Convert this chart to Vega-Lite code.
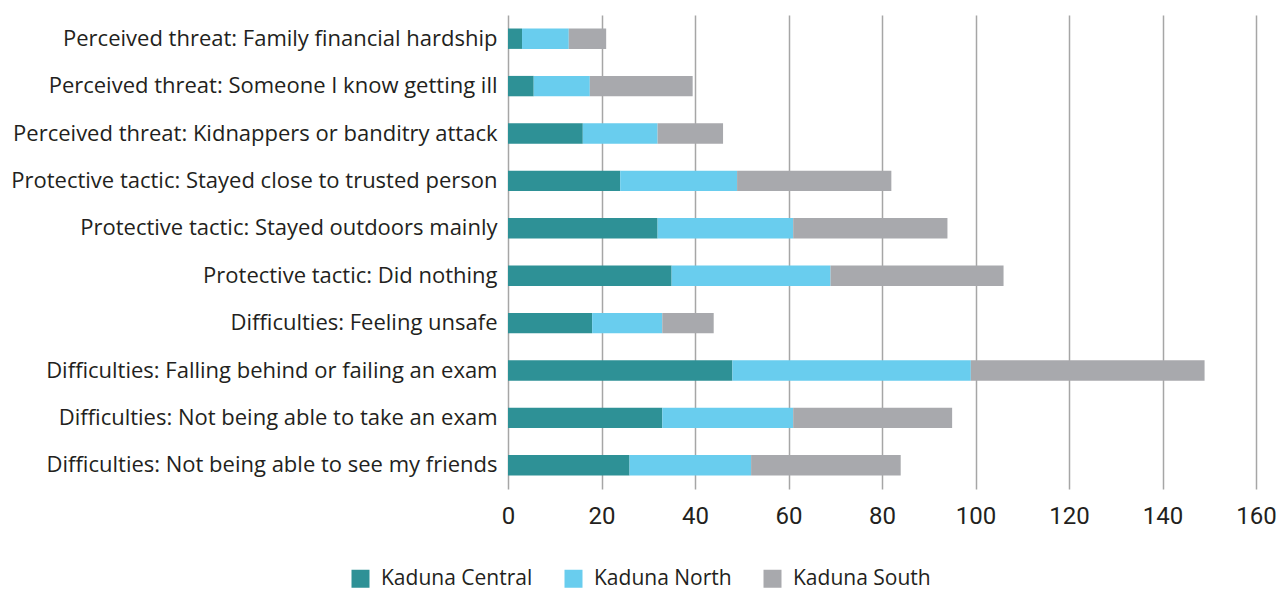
{
  "$schema": "https://vega.github.io/schema/vega-lite/v6.json",
  "autosize": {"type": "none"},
  "padding": {"left": 508, "top": 15, "right": 24, "bottom": 101},
  "width": 748,
  "height": 474,
  "background": "white",
  "data": {
    "values": [
      {"item": "Perceived threat: Family financial hardship", "region": "Kaduna Central", "value": 3},
      {"item": "Perceived threat: Family financial hardship", "region": "Kaduna North", "value": 10},
      {"item": "Perceived threat: Family financial hardship", "region": "Kaduna South", "value": 8},
      {"item": "Perceived threat: Someone I know getting ill", "region": "Kaduna Central", "value": 5.5},
      {"item": "Perceived threat: Someone I know getting ill", "region": "Kaduna North", "value": 12},
      {"item": "Perceived threat: Someone I know getting ill", "region": "Kaduna South", "value": 22},
      {"item": "Perceived threat: Kidnappers or banditry attack", "region": "Kaduna Central", "value": 16},
      {"item": "Perceived threat: Kidnappers or banditry attack", "region": "Kaduna North", "value": 16},
      {"item": "Perceived threat: Kidnappers or banditry attack", "region": "Kaduna South", "value": 14},
      {"item": "Protective tactic: Stayed close to trusted person", "region": "Kaduna Central", "value": 24},
      {"item": "Protective tactic: Stayed close to trusted person", "region": "Kaduna North", "value": 25},
      {"item": "Protective tactic: Stayed close to trusted person", "region": "Kaduna South", "value": 33},
      {"item": "Protective tactic: Stayed outdoors mainly", "region": "Kaduna Central", "value": 32},
      {"item": "Protective tactic: Stayed outdoors mainly", "region": "Kaduna North", "value": 29},
      {"item": "Protective tactic: Stayed outdoors mainly", "region": "Kaduna South", "value": 33},
      {"item": "Protective tactic: Did nothing", "region": "Kaduna Central", "value": 35},
      {"item": "Protective tactic: Did nothing", "region": "Kaduna North", "value": 34},
      {"item": "Protective tactic: Did nothing", "region": "Kaduna South", "value": 37},
      {"item": "Difficulties: Feeling unsafe", "region": "Kaduna Central", "value": 18},
      {"item": "Difficulties: Feeling unsafe", "region": "Kaduna North", "value": 15},
      {"item": "Difficulties: Feeling unsafe", "region": "Kaduna South", "value": 11},
      {"item": "Difficulties: Falling behind or failing an exam", "region": "Kaduna Central", "value": 48},
      {"item": "Difficulties: Falling behind or failing an exam", "region": "Kaduna North", "value": 51},
      {"item": "Difficulties: Falling behind or failing an exam", "region": "Kaduna South", "value": 50},
      {"item": "Difficulties: Not being able to take an exam", "region": "Kaduna Central", "value": 33},
      {"item": "Difficulties: Not being able to take an exam", "region": "Kaduna North", "value": 28},
      {"item": "Difficulties: Not being able to take an exam", "region": "Kaduna South", "value": 34},
      {"item": "Difficulties: Not being able to see my friends", "region": "Kaduna Central", "value": 26},
      {"item": "Difficulties: Not being able to see my friends", "region": "Kaduna North", "value": 26},
      {"item": "Difficulties: Not being able to see my friends", "region": "Kaduna South", "value": 32}
    ]
  },
  "mark": {"type": "bar"},
  "encoding": {
    "y": {
      "field": "item",
      "type": "nominal",
      "sort": null,
      "title": null,
      "scale": {"paddingInner": 0.57, "paddingOuter": 0.285},
      "axis": {
        "domain": false,
        "ticks": false,
        "grid": false,
        "labelFont": "Open Sans",
        "labelFontSize": 22,
        "labelColor": "#231F20",
        "labelPadding": 11,
        "labelLimit": 520
      }
    },
    "x": {
      "field": "value",
      "type": "quantitative",
      "stack": "zero",
      "title": null,
      "scale": {"domain": [0, 160], "nice": false},
      "axis": {
        "values": [0, 20, 40, 60, 80, 100, 120, 140, 160],
        "domain": false,
        "ticks": false,
        "grid": true,
        "gridColor": "#A6A6A6",
        "gridWidth": 1.5,
        "labelFont": "Roboto",
        "labelFontSize": 24,
        "labelColor": "#231F20",
        "labelPadding": 15,
        "labelFlush": false
      }
    },
    "color": {
      "field": "region",
      "type": "nominal",
      "title": null,
      "scale": {
        "domain": ["Kaduna Central", "Kaduna North", "Kaduna South"],
        "range": ["#2E9196", "#69CDEE", "#A8A9AD"]
      },
      "legend": {
        "orient": "none",
        "direction": "horizontal",
        "legendX": -158,
        "legendY": 553,
        "padding": 0,
        "symbolType": "square",
        "symbolSize": 324,
        "symbolStrokeWidth": 0,
        "symbolOpacity": 1,
        "labelFont": "Open Sans",
        "labelFontSize": 21,
        "labelColor": "#231F20",
        "labelOffset": 10,
        "labelLimit": 300,
        "columnPadding": 30
      }
    },
    "order": {"field": "region", "sort": "ascending"}
  },
  "config": {
    "view": {"stroke": null}
  }
}
